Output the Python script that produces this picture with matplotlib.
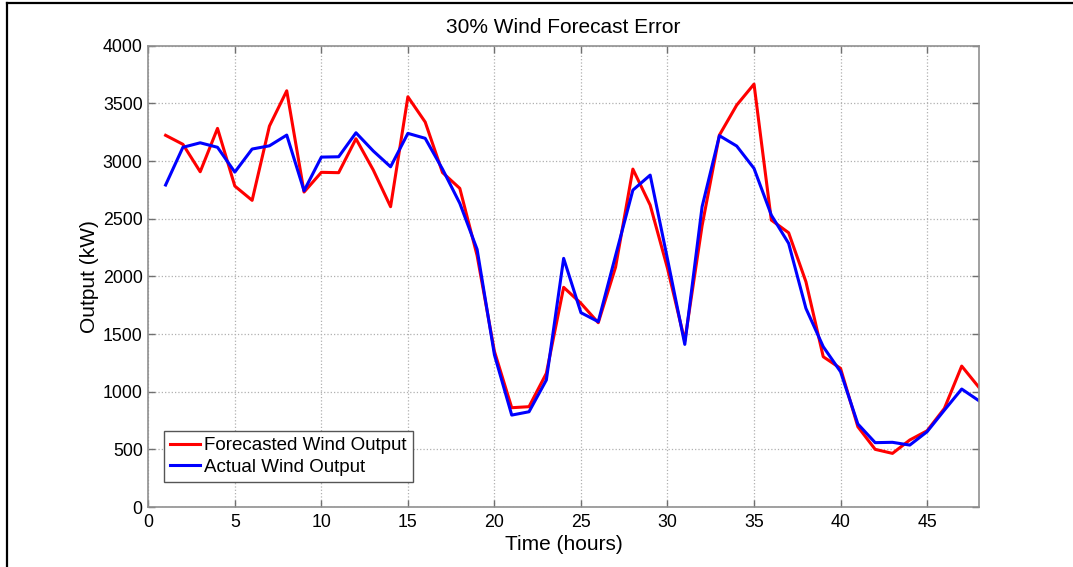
import numpy as np
import matplotlib
matplotlib.use("Agg")
import matplotlib.pyplot as plt
from matplotlib.lines import Line2D

plt.rcParams['font.family'] = ['Liberation Sans', 'DejaVu Sans']

# 時間 (hours)
hours = np.arange(1, 49)

# 予測出力 (kW)
forecast = [3223, 3145, 2907, 3283, 2783, 2659, 3303, 3609, 2731, 2902,
            2899, 3193, 2922, 2604, 3557, 3338, 2900, 2763, 2180, 1350,
            861, 870, 1159, 1905, 1766, 1598, 2080, 2930, 2618, 2070,
            1440, 2440, 3225, 3485, 3667, 2488, 2378, 1953, 1303, 1202,
            696, 500, 465, 581, 661, 855, 1222, 1037]

# 実出力 (kW)
actual = [2792, 3119, 3158, 3119, 2904, 3104, 3132, 3225, 2742, 3034,
          3037, 3245, 3087, 2950, 3240, 3197, 2930, 2633, 2234, 1320,
          797, 826, 1101, 2156, 1685, 1607, 2180, 2748, 2878, 2150,
          1410, 2604, 3220, 3130, 2936, 2531, 2286, 1722, 1390, 1173,
          720, 558, 561, 537, 653, 840, 1023, 921]

xticks = np.arange(0, 50, 5)
yticks = np.arange(0, 4001, 500)

fig = plt.figure(figsize=(10.73, 5.67), dpi=100)
ax = fig.add_axes([0.1382, 0.1058, 0.9124 - 0.1382, 0.9194 - 0.1058])

ax.plot(hours, forecast, color='#ff0000', lw=2.2, label='Forecasted Wind Output')
ax.plot(hours, actual, color='#0000ff', lw=2.2, label='Actual Wind Output')

ax.set_xlim(0, 48)
ax.set_ylim(0, 4000)
ax.set_xticks(xticks)
ax.set_yticks(yticks)
ax.grid(True, linestyle=':', color='#b0b0b0', lw=0.9)
ax.tick_params(direction='in', top=True, right=True, length=5, width=1,
               color='#707070', labelsize=12.8, labelcolor='black')
ax.tick_params(axis='x', pad=5)
ax.tick_params(axis='y', pad=4)
for s in ax.spines.values():
    s.set_color('#909090')
    s.set_linewidth(1.2)

ax.set_title('30% Wind Forecast Error', fontsize=15, pad=9)
ax.set_xlabel('Time (hours)', fontsize=15, labelpad=3)
ax.set_ylabel('Output (kW)', fontsize=15, labelpad=3)

leg = ax.legend(loc='lower left', bbox_to_anchor=(0.019, 0.055), borderaxespad=0,
                fontsize=13.5, fancybox=False, framealpha=1, handlelength=1.6,
                handletextpad=0.25, borderpad=0.3, labelspacing=0.25)
leg.get_frame().set_edgecolor('#555555')
leg.get_frame().set_linewidth(1.0)

# 外枠 (上と左)
fig.add_artist(Line2D([7 / 1073, 1], [1 - 2.5 / 567, 1 - 2.5 / 567], color='black', lw=1.6))
fig.add_artist(Line2D([7 / 1073, 7 / 1073], [0, 1 - 2.5 / 567], color='black', lw=1.6))

fig.savefig('out.png', dpi=100)
